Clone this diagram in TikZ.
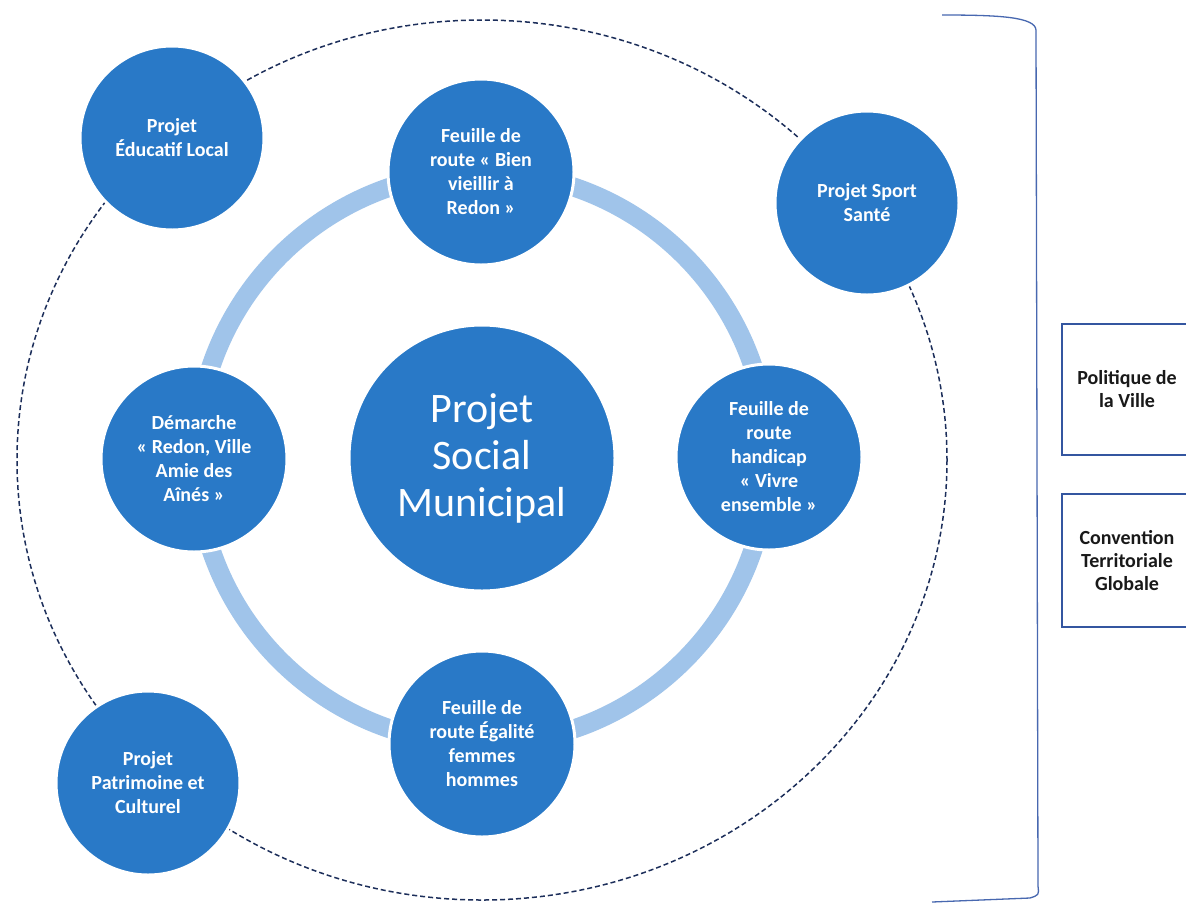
\documentclass[tikz,border=0pt]{standalone}
\usepackage{fontspec}
\setmainfont{Carlito}
\definecolor{circblue}{RGB}{41,121,199}
\definecolor{ringblue}{RGB}{160,196,234}
\definecolor{dashnavy}{RGB}{28,46,90}
\definecolor{bracketblue}{RGB}{72,104,176}
\definecolor{boxblue}{RGB}{52,86,160}
\begin{document}
\begin{tikzpicture}[x=1pt,y=-1pt,
  bubble/.style={circle, fill=circblue, draw=white, line width=3pt,
    inner sep=0pt, minimum size=#1, text=white, align=center,
    font=\bfseries\fontsize{20}{24}\selectfont},
  bubble/.default=186pt,
  hub/.style={circle, fill=circblue, draw=white, line width=3pt,
    inner sep=0pt, minimum size=266pt, text=white, align=center,
    font=\fontsize{42}{47}\selectfont},
  infobox/.style={rectangle, draw=boxblue, line width=1.5pt, fill=white,
    minimum width=130pt, minimum height=#1, inner sep=0pt, align=center,
    text=black!90, font=\bfseries\fontsize{20}{23}\selectfont},
  ring/.style={ringblue, line width=19pt},
  orbit/.style={dashnavy, line width=1.5pt, dash pattern=on 5pt off 3pt},
  brace/.style={bracketblue, line width=1.3pt}
]
\useasboundingbox (0,0) rectangle (1186,903);
\fill[white] (0,0) rectangle (1186,903);

% light ring linking the inner projects
\draw[ring] (482,458) circle[radius=286];
% dashed orbit carrying the outer projects
\draw[orbit] (482,460) ellipse[x radius=465, y radius=440];

% centre
\node[hub] (psm) at (482,458) {Projet\\Social\\Municipal};

% inner ring
\node[bubble] (bien) at (481,172) {Feuille de\\route « Bien\\vieillir à\\Redon »};
\node[bubble] (handi) at (769,457) {Feuille de\\route\\handicap\\« Vivre\\ensemble »};
\node[bubble] (egal) at (482,744) {Feuille de\\route Égalité\\femmes\\hommes};
\node[bubble] (aines) at (194,459) {Démarche\\« Redon, Ville\\Amie des\\Aînés »};

% outer orbit
\node[bubble=184pt] (pel) at (172,138) {Projet\\Éducatif Local};
\node[bubble=184pt] (sport) at (867,203) {Projet Sport\\Santé};
\node[bubble=184pt] (patri) at (148,783) {Projet\\Patrimoine et\\Culturel};

% bracket and side boxes
\coordinate (bt) at (942,15);
\coordinate (bb) at (932,902);
\draw[brace] (bt) .. controls (1000,15) and (1035,17) .. (1036,30)
  -- (1038,886) .. controls (1039,895) .. (1030,898) -- (bb);
\node[infobox=131pt] (pdv) at (1127,389.5) {Politique de\\la Ville};
\node[infobox=133pt] (ctg) at (1127,560.5) {Convention\\Territoriale\\Globale};
\end{tikzpicture}
\end{document}
